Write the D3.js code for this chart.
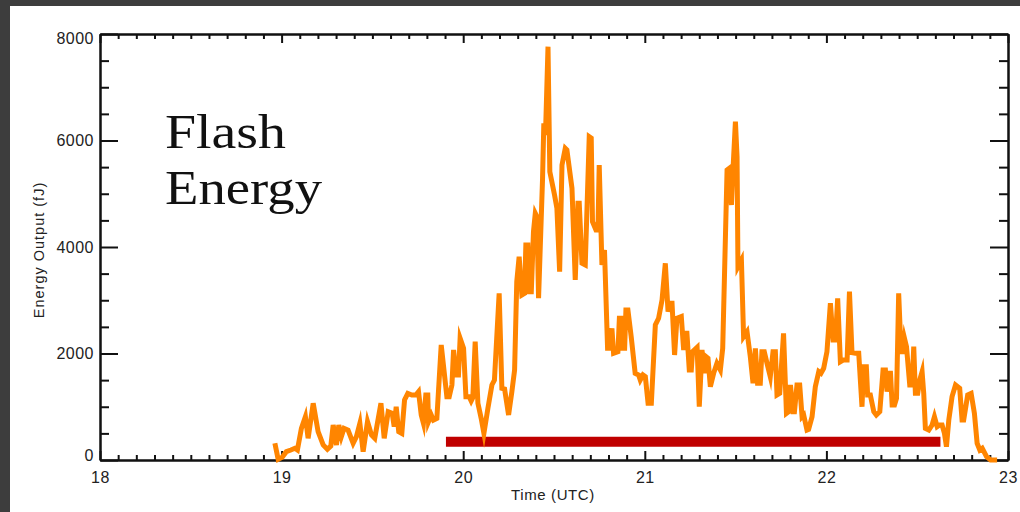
<!DOCTYPE html>
<html>
<head>
<meta charset="utf-8">
<script src="https://cdn.jsdelivr.net/npm/d3@7"></script>
<style>
  html, body { margin: 0; padding: 0; background: #3d3d3d; }
  svg { display: block; }
</style>
</head>
<body>
<svg id="chart" width="1020" height="512"></svg>
<script>
// Time in hours UTC (decimal)
const times = [
  18.963, 18.981, 19.003, 19.026, 19.051, 19.073, 19.087, 19.109, 19.131, 19.146,
  19.174, 19.201, 19.229, 19.252, 19.271, 19.284, 19.302, 19.315, 19.329, 19.344,
  19.366, 19.394, 19.412, 19.431, 19.449, 19.473, 19.495, 19.513, 19.547, 19.565,
  19.587, 19.609, 19.620, 19.631, 19.645, 19.662, 19.677, 19.695, 19.717, 19.739,
  19.754, 19.769, 19.781, 19.794, 19.805, 19.809, 19.824, 19.836, 19.855, 19.879,
  19.910, 19.923, 19.938, 19.947, 19.961, 19.974, 19.983, 20.002, 20.015, 20.033,
  20.044, 20.053, 20.066, 20.081, 20.099, 20.114, 20.136, 20.158, 20.172, 20.198,
  20.213, 20.228, 20.250, 20.268, 20.283, 20.295, 20.308, 20.323, 20.338, 20.345,
  20.356, 20.364, 20.375, 20.387, 20.397, 20.406, 20.415, 20.437, 20.444, 20.453,
  20.467, 20.477, 20.503, 20.516, 20.531, 20.544, 20.562, 20.571, 20.599, 20.617,
  20.632, 20.639, 20.654, 20.672, 20.694, 20.705, 20.712, 20.731, 20.742, 20.749,
  20.764, 20.778, 20.795, 20.810, 20.819, 20.828, 20.852, 20.860, 20.874, 20.877,
  20.889, 20.896, 20.907, 20.925, 20.947, 20.966, 20.975, 20.990, 21.003, 21.018,
  21.036, 21.058, 21.076, 21.095, 21.113, 21.128, 21.140, 21.150, 21.164, 21.177,
  21.201, 21.214, 21.223, 21.232, 21.245, 21.256, 21.263, 21.288, 21.300, 21.315,
  21.328, 21.337, 21.348, 21.361, 21.379, 21.397, 21.416, 21.429, 21.453, 21.465,
  21.477, 21.486, 21.499, 21.508, 21.513, 21.532, 21.544, 21.563, 21.581, 21.596,
  21.609, 21.621, 21.636, 21.645, 21.658, 21.673, 21.691, 21.706, 21.719, 21.728,
  21.743, 21.764, 21.780, 21.792, 21.802, 21.816, 21.824, 21.838, 21.853, 21.866,
  21.875, 21.893, 21.902, 21.921, 21.939, 21.958, 21.970, 21.985, 22.003, 22.022,
  22.037, 22.050, 22.062, 22.077, 22.092, 22.114, 22.127, 22.141, 22.160, 22.178,
  22.196, 22.205, 22.220, 22.227, 22.242, 22.261, 22.275, 22.294, 22.312, 22.325,
  22.334, 22.343, 22.353, 22.362, 22.375, 22.386, 22.398, 22.411, 22.422, 22.430,
  22.441, 22.459, 22.472, 22.481, 22.490, 22.503, 22.514, 22.527, 22.536, 22.545,
  22.564, 22.582, 22.595, 22.610, 22.624, 22.637, 22.650, 22.661, 22.674, 22.692,
  22.711, 22.734, 22.747, 22.756, 22.778, 22.797, 22.815, 22.830, 22.845, 22.858,
  22.882, 22.904, 22.940
];
// Flash energy output (fJ)
const energy = [
  314, 13, 50, 156, 188, 220, 188, 595, 813, 408,
  1065, 532, 282, 201, 263, 657, 282, 657, 438, 595,
  563, 314, 438, 689, 156, 720, 470, 408, 1065, 408,
  907, 876, 626, 1000, 532, 500, 1127, 1252, 1221, 1221,
  1283, 845, 689, 1221, 1221, 720, 845, 751, 782, 2160,
  1190, 1190, 1409, 2066, 1596, 1596, 2285, 2097, 1190, 1190,
  1108, 1170, 2222, 1065, 782, 500, 970, 1409, 1502, 3130,
  1346, 1333, 845, 1283, 1690, 3349, 3818, 3099, 3130, 4038,
  4038, 3161, 3161, 4288, 4633, 4570, 3037, 5290, 6323, 6104,
  7762, 5414, 4977, 4727, 3536, 5540, 5853, 5822, 5102, 3380,
  4820, 4820, 3694, 3662, 6072, 6047, 4475, 4320, 4320, 5540,
  3662, 3944, 2097, 2097, 2473, 2003, 2034, 2661, 2661, 2097,
  2097, 2817, 2817, 2316, 1628, 1596, 1502, 1596, 1565, 1065,
  1065, 2535, 2661, 3005, 3694, 2786, 2943, 2943, 1972, 2661,
  2692, 2066, 2379, 2379, 1690, 1690, 2034, 2116, 1000, 2066,
  1628, 1940, 1909, 1377, 1628, 1815, 1690, 2097, 5446, 5478,
  4789, 5478, 6354, 5696, 3631, 3756, 2316, 2410, 1940, 1440,
  2097, 1440, 1440, 2034, 2034, 1815, 1565, 2034, 2034, 1221,
  1252, 2379, 876, 907, 1409, 907, 907, 1409, 1409, 813,
  845, 563, 576, 813, 1377, 1659, 1628, 1722, 2034, 2943,
  2254, 2254, 3037, 1847, 1878, 1878, 3161, 2015, 2003, 2003,
  1000, 1753, 1753, 1221, 1221, 907, 845, 907, 1690, 1690,
  1283, 1628, 1628, 1033, 1033, 1158, 3130, 2034, 2034, 2285,
  2128, 1409, 1409, 2128, 1252, 1252, 1502, 1659, 1252, 595,
  563, 657, 813, 626, 657, 657, 500, 250, 751, 1190,
  1409, 1346, 751, 751, 1221, 1252, 876, 314, 188, 220,
  63, 0, 0
];
// Observation period bar
const barTimes = [19.905, 22.628];
const barLevel = [344, 344];

const xTicks = [18, 19, 20, 21, 22, 23];
const yTicks = [0, 2000, 4000, 6000, 8000];
const xLabel = "Time (UTC)";
const yLabel = "Energy Output (fJ)";
const titleLines = ["Flash", "Energy"];

const svg = d3.select("#chart");
// white panel
svg.append("rect").attr("x", 10).attr("y", 6).attr("width", 1010).attr("height", 506).attr("fill", "#ffffff");

const L = 100, R = 1008, T = 34, B = 460;
const x = d3.scaleLinear().domain([18, 23]).range([L, R]);
const y = d3.scaleLinear().domain([0, 8000]).range([B, T]);

const xMinor = d3.range(180, 231).map(d => d / 10).filter(d => !xTicks.includes(d));
const yMinor = d3.range(0, 8001, 500).filter(d => !yTicks.includes(d));

function styleAxis(g) {
  g.selectAll("path.domain").attr("stroke", "#111").attr("stroke-width", 2);
  g.selectAll(".tick line").attr("stroke", "#111").attr("stroke-width", 2);
  g.attr("font-family", "'Liberation Sans', Arial, sans-serif").attr("font-size", 16);
  g.selectAll(".tick text").attr("fill", "#222").style("letter-spacing", "0.5px");
}

// bottom
const gB = svg.append("g").attr("transform", `translate(0,${B})`)
  .call(d3.axisBottom(x).tickValues(xTicks).tickFormat(d3.format("d")).tickSize(-9).tickSizeOuter(0).tickPadding(12));
styleAxis(gB);
const gBm = svg.append("g").attr("transform", `translate(0,${B})`)
  .call(d3.axisBottom(x).tickValues(xMinor).tickFormat("").tickSize(-5).tickSizeOuter(0));
styleAxis(gBm);
// top
const gT = svg.append("g").attr("transform", `translate(0,${T})`)
  .call(d3.axisTop(x).tickValues(xTicks).tickFormat("").tickSize(-9).tickSizeOuter(0));
styleAxis(gT);
const gTm = svg.append("g").attr("transform", `translate(0,${T})`)
  .call(d3.axisTop(x).tickValues(xMinor).tickFormat("").tickSize(-5).tickSizeOuter(0));
styleAxis(gTm);
// left
const gL = svg.append("g").attr("transform", `translate(${L},0)`)
  .call(d3.axisLeft(y).tickValues(yTicks).tickFormat(d3.format("d")).tickSize(-18).tickSizeOuter(0).tickPadding(6));
styleAxis(gL);
// end labels sit slightly inside the frame
gL.selectAll(".tick text").attr("dy", d => d === 8000 ? "0.62em" : d === 0 ? "0.05em" : "0.32em");
const gLm = svg.append("g").attr("transform", `translate(${L},0)`)
  .call(d3.axisLeft(y).tickValues(yMinor).tickFormat("").tickSize(-9).tickSizeOuter(0));
styleAxis(gLm);
// right
const gR = svg.append("g").attr("transform", `translate(${R},0)`)
  .call(d3.axisRight(y).tickValues(yTicks).tickFormat("").tickSize(-18).tickSizeOuter(0));
styleAxis(gR);
const gRm = svg.append("g").attr("transform", `translate(${R},0)`)
  .call(d3.axisRight(y).tickValues(yMinor).tickFormat("").tickSize(-9).tickSizeOuter(0));
styleAxis(gRm);

// axis titles
svg.append("text").attr("x", 553).attr("y", 500).attr("text-anchor", "middle")
  .attr("font-family", "'Liberation Sans', Arial, sans-serif").attr("font-size", 15)
  .style("letter-spacing", "0.6px").attr("fill", "#222").text(xLabel);
svg.append("text").attr("transform", "translate(44,250) rotate(-90)").attr("text-anchor", "middle")
  .attr("font-family", "'Liberation Sans', Arial, sans-serif").attr("font-size", 14.5)
  .style("letter-spacing", "1px").attr("fill", "#222").text(yLabel);

// bar
const barData = barTimes.map((t, i) => [t, barLevel[i]]);
svg.append("path").datum(barData)
  .attr("d", d3.line().x(d => x(d[0])).y(d => y(d[1])))
  .attr("stroke", "#c00000").attr("stroke-width", 10).attr("fill", "none");

// energy line
const lineData = times.map((t, i) => [t, energy[i]]);
svg.append("path").datum(lineData)
  .attr("d", d3.line().x(d => x(d[0])).y(d => y(d[1])))
  .attr("stroke", "#ff8500").attr("stroke-width", 5).attr("fill", "none")
  .attr("stroke-linejoin", "miter").attr("stroke-miterlimit", 6);

// title text
const tl = [[165, 148, 121], [165, 204, 157]];
titleLines.forEach((s, i) => {
  svg.append("text").attr("x", tl[i][0]).attr("y", tl[i][1])
    .attr("font-family", "'Liberation Serif', 'Times New Roman', serif").attr("font-size", 48)
    .attr("textLength", tl[i][2]).attr("lengthAdjust", "spacingAndGlyphs")
    .attr("fill", "#111").text(s);
});
</script>
</body>
</html>
